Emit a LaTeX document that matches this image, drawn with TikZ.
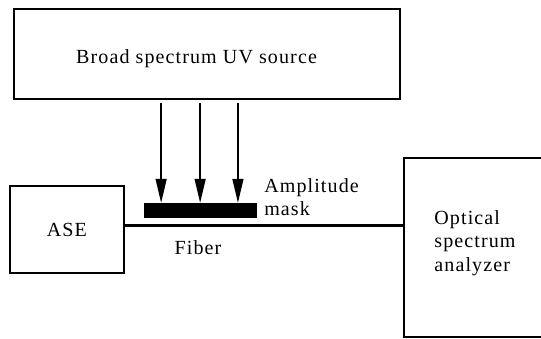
\documentclass[tikz,border=0pt]{standalone}
\usepackage{fontspec}
\setmainfont{Liberation Serif}[LetterSpace=5.5]
\usetikzlibrary{arrows.meta}

\begin{document}
\begin{tikzpicture}[
  box/.style={draw,line width=2pt,inner sep=0pt},
  lbl/.style={font=\fontsize{19}{22}\selectfont,inner sep=0pt},
  ray/.style={-{Triangle[length=0.8cm,width=0.36cm]},line width=1.8pt,shorten <=0.1cm},
  fiber/.style={line width=2.8pt},
  maskbar/.style={fill=black,inner sep=0pt,minimum width=3.77cm,minimum height=0.5cm}]

\useasboundingbox (0,0) rectangle (18.03,11.27);

% Source and instruments.
\node[box,minimum width=12.87cm,minimum height=3.0cm] (uv) at (6.9,9.47) {};
\node[lbl] (uvlab) at (6.55,9.3) {Broad spectrum UV source};
\node[box,lbl,minimum width=3.8cm,minimum height=2.9cm] (ase) at (2.23,3.62) {ASE};
\node[box,minimum width=5.2cm,minimum height=5.97cm] (osa) at (16.07,3.02) {};
\node[lbl,anchor=west,align=left] (osalab) at (14.47,3.17) {Optical\\spectrum\\analyzer};

% Mask over the fiber.
\node[maskbar] (mask) at (6.68,4.25) {};
\node[lbl,anchor=west,align=left] (masklab) at (8.8,4.7) {Amplitude\\mask};

% Fiber from ASE to the analyzer.
\coordinate (fib) at (0,3.75);
\draw[fiber] (ase.east |- fib) -- (osa.west |- fib);
\node[lbl] (fiblab) at (6.6,3.0) {Fiber};

% UV rays.
\draw[ray] (uv.south -| 5.37,0) -- (mask.north -| 5.37,0);
\draw[ray] (uv.south -| 6.67,0) -- (mask.north -| 6.67,0);
\draw[ray] (uv.south -| 7.93,0) -- (mask.north -| 7.93,0);
\end{tikzpicture}
\end{document}
